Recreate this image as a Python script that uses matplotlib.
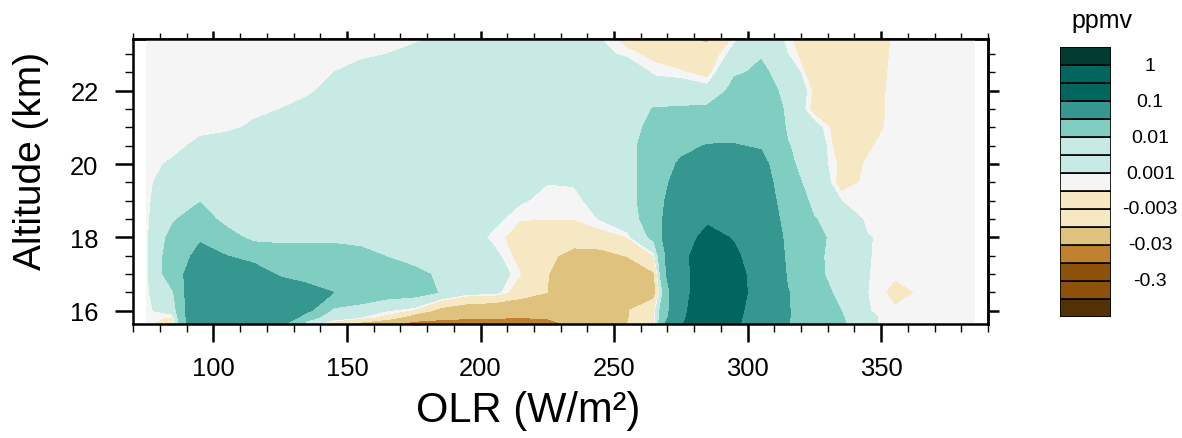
import numpy as np
import matplotlib
matplotlib.use('Agg')
import matplotlib.pyplot as plt
from matplotlib.colors import ListedColormap, BoundaryNorm
from matplotlib.ticker import MultipleLocator
from matplotlib.patches import Rectangle

plt.rcParams['font.family'] = ['Liberation Sans', 'DejaVu Sans']

# OLR bin centres (W/m2) and altitude levels (km)
olr = [75, 85, 95, 105, 115, 125, 135, 145, 155, 165, 175, 185, 195, 205, 215, 225,
       235, 245, 255, 265, 275, 285, 295, 305, 315, 325, 335, 345, 355, 365, 375, 385]
alt = [15.64, 15.82, 16.0, 16.5, 17.0, 17.5, 18.0, 18.5, 19.0,
       19.5, 20.0, 20.5, 21.0, 21.5, 22.0, 22.5, 23.0, 23.41]

# anomaly (ppmv) along each altitude level
z_1564 = [-0.0005, -0.003, 0.06, 0.065, 0.06, 0.035, 0.006, -0.0058, -0.0142, -0.025, -0.0385, -0.045,
          -0.05, -0.05, -0.05, -0.045, -0.02, -0.018, -0.01, -0.002, 0.08, 0.3, 0.11, 0.0645,
          0.0305, 0.02, 0.012, 0.0015, 0, 0, 0, 0]
z_1582 = [0, -0.0015, 0.065, 0.07, 0.065, 0.06, 0.014, 0.0053, 0.001, -0.00285, -0.0174, -0.022,
          -0.025, -0.027, -0.029, -0.027, -0.024, -0.02, -0.0105, -0.003, 0.06, 0.26, 0.12, 0.053,
          0.031, 0.02, 0.011, 0.0016, 0, 0, 0, 0]
z_1600 = [0, 0.004, 0.06, 0.065, 0.06, 0.05, 0.035, 0.006, 0.004, 0.001, -0.0019, -0.0142,
          -0.018, -0.02, -0.022, -0.025, -0.025, -0.02, -0.0105, -0.002, 0.055, 0.235, 0.12, 0.064,
          0.031, 0.02, 0.0101, 0.0012, -0.0006, 0, 0, 0]
z_1650 = [0, 0.0095, 0.058, 0.06, 0.055, 0.05, 0.04, 0.03, 0.02, 0.015, 0.014, 0.0095,
          0.003, 0.0026, -0.0041, -0.01, -0.022, -0.025, -0.022, -0.014, 0.06, 0.174, 0.13, 0.069,
          0.031, 0.015, 0.0075, 0.001, -0.002, -0.0007, 0, 0]
z_1700 = [0, 0.0164, 0.0513, 0.05, 0.045, 0.0263, 0.02, 0.02, 0.02, 0.018, 0.013, 0.0082,
          0.005, 0.004, -0.001, -0.0095, -0.02, -0.022, -0.02, -0.011, 0.08, 0.137, 0.12, 0.0745,
          0.0272, 0.013, 0.0049, 0.0011, -0.0006, 0, 0, 0]
z_1750 = [0, 0.0164, 0.037, 0.03, 0.02, 0.02, 0.02, 0.02, 0.015, 0.0094, 0.006, 0.005,
          0.004, 0.00216, -0.0025, -0.007, -0.0145, -0.014, -0.0095, -0.001, 0.07, 0.16, 0.11, 0.068,
          0.0248, 0.012, 0.0064, 0.00114, 0, 0, 0, 0]
z_1800 = [0, 0.014, 0.027, 0.015, 0.0069, 0.005, 0.005, 0.005, 0.005, 0.005, 0.005, 0.005,
          0.0036, 0, -0.0026, -0.004, -0.004, -0.003, -0.001, 0.013, 0.07, 0.119, 0.0955, 0.0756,
          0.02, 0.015, 0.0036, 0.0012, 0, 0, 0, 0]
z_1850 = [0, 0.009, 0.016, 0.006, 0.005, 0.005, 0.005, 0.005, 0.005, 0.005, 0.005, 0.005,
          0.004, 0.002, -0.0009, -0.0009, -0.0009, 0.0012, 0.006, 0.0147, 0.0625, 0.09, 0.08, 0.053,
          0.02, 0.0105, 0.005, 0, 0, 0, 0, 0]
z_1900 = [0, 0.006, 0.0095, 0.008, 0.006, 0.006, 0.005, 0.005, 0.005, 0.005, 0.005, 0.004,
          0.004, 0.004, 0.0014, 0, 0, 0.0028, 0.006, 0.017, 0.05, 0.07, 0.07, 0.0344,
          0.0267, 0.005, 0.001, 0, 0, 0, 0, 0]
z_1950 = [0, 0.004, 0.004, 0.004, 0.004, 0.004, 0.004, 0.004, 0.004, 0.004, 0.004, 0.004,
          0.004, 0.004, 0.004, 0.0011, 0.0013, 0.004, 0.006, 0.017, 0.0406, 0.06, 0.06, 0.0439,
          0.013, 0.0073, -0.0032, 0, 0, 0, 0, 0]
z_2000 = [0, 0.0016, 0.004, 0.004, 0.004, 0.004, 0.004, 0.004, 0.004, 0.004, 0.004, 0.004,
          0.004, 0.004, 0.004, 0.004, 0.004, 0.005, 0.006, 0.017, 0.033, 0.05, 0.05, 0.0372,
          0.0123, 0.004, -0.002, -0.0008, 0, 0, 0, 0]
z_2050 = [0, 0, 0.002, 0.004, 0.004, 0.004, 0.004, 0.004, 0.004, 0.004, 0.004, 0.004,
          0.004, 0.004, 0.004, 0.004, 0.004, 0.005, 0.006, 0.017, 0.025, 0.031, 0.031, 0.028,
          0.0105, 0.005, -0.004, -0.0013, 0, 0, 0, 0]
z_2100 = [0, 0, 0, 0, 0.00175, 0.003, 0.004, 0.004, 0.004, 0.004, 0.004, 0.004,
          0.004, 0.004, 0.004, 0.004, 0.004, 0.005, 0.006, 0.013, 0.02, 0.02, 0.022, 0.022,
          0.0088, 0.003, -0.004, -0.004, 0.0008, 0, 0, 0]
z_2150 = [0, 0, 0, 0, 0, 0.001, 0.003, 0.004, 0.004, 0.004, 0.004, 0.004,
          0.004, 0.004, 0.004, 0.004, 0.004, 0.004, 0.005, 0.0105, 0.011, 0.012, 0.018, 0.02,
          0.008, -0.003, -0.004, -0.004, 0.0005, 0, 0, 0]
z_2200 = [0, 0, 0, 0, 0, 0, 0, 0.0029, 0.004, 0.004, 0.004, 0.004,
          0.004, 0.004, 0.004, 0.004, 0.004, 0.004, 0.004, 0.004, 0.004, 0.003, 0.013, 0.0128,
          0.0084, -0.0021, -0.005, -0.004, 0.0004, 0, 0, 0]
z_2250 = [0, 0, 0, 0, 0, 0, 0, 0.001, 0.003, 0.004, 0.004, 0.004,
          0.004, 0.004, 0.004, 0.004, 0.004, 0.004, 0.005, 0.0003, -0.00055, -0.0028, 0.009, 0.0112,
          0.0073, -0.0061, -0.005, -0.004, 0, 0, 0, 0]
z_2300 = [0, 0, 0, 0, 0, 0, 0, 0, 0, 0.001, 0.003, 0.004,
          0.004, 0.004, 0.004, 0.004, 0.003, 0.0022, 0, -0.0021, -0.004, -0.0045, 0.0029, 0.0095,
          0.001, -0.0046, -0.005, -0.004, -0.0003, 0, 0, 0]
z_2341 = [0, 0, 0, 0, 0, 0, 0, 0, 0, 0, 0, 0.002,
          0.003, 0.004, 0.004, 0.004, 0.003, 0.001, -0.0026, -0.004, -0.009, -0.012, 0.0, 0.0067,
          -0.0002, -0.006, -0.005, -0.004, -0.0005, 0, 0, 0]

# contour levels and fill colours (lowest bin first)
levels = [-1, -0.3, -0.1, -0.03, -0.01, -0.003, -0.001, 0.001, 0.003, 0.01, 0.03, 0.1, 0.3, 1]
fill_colors = ['#543005', '#8c510a', '#8c510a', '#bf812d', '#dfc27d', '#f6e8c3', '#f6e8c3',
               '#f5f5f5', '#c7eae5', '#c7eae5', '#80cdc1', '#35978f', '#01665e', '#01665e', '#003c30']
cbar_labels = {14: '1', 12: '0.1', 10: '0.01', 8: '0.001', 6: '-0.003', 4: '-0.03', 2: '-0.3'}

z = np.array([z_1564, z_1582, z_1600, z_1650, z_1700, z_1750, z_1800, z_1850, z_1900,
              z_1950, z_2000, z_2050, z_2100, z_2150, z_2200, z_2250, z_2300, z_2341])

cmap = ListedColormap(fill_colors[1:-1])
cmap.set_under(fill_colors[0])
cmap.set_over(fill_colors[-1])
norm = BoundaryNorm(levels, cmap.N)

W, H = 1182, 439
fig = plt.figure(figsize=(W / 100, H / 100), dpi=100)
ax = fig.add_axes([133.3 / W, 1 - 325 / H, (988 - 133.3) / W, (325 - 40) / H])

ax.contourf(olr, alt, z, levels=levels, cmap=cmap, norm=norm, extend='both', antialiased=False)

ax.set_xlim(70, 390)
ax.set_ylim(15.64, 23.41)
ax.set_xticks([100, 150, 200, 250, 300, 350])
ax.set_yticks([16, 18, 20, 22])
ax.xaxis.set_minor_locator(MultipleLocator(10))
ax.yaxis.set_minor_locator(MultipleLocator(0.5))
ax.tick_params(which='major', direction='out', length=13, width=1.8, labelsize=18.4)
ax.tick_params(which='minor', direction='out', length=6, width=1.0)
ax.tick_params(axis='x', which='major', pad=10)
ax.tick_params(axis='y', which='major', pad=12)
for sp in ax.spines.values():
    sp.set_linewidth(1.8)

# short ticks on top and right
secx = ax.secondary_xaxis('top')
secx.set_xticks([100, 150, 200, 250, 300, 350])
secx.set_xticklabels([])
secx.xaxis.set_minor_locator(MultipleLocator(10))
secx.tick_params(which='major', direction='out', length=6, width=1.8)
secx.tick_params(which='minor', direction='out', length=4, width=1.0)
secx.spines['top'].set_linewidth(1.8)

secy = ax.secondary_yaxis('right')
secy.set_yticks([16, 18, 20, 22])
secy.set_yticklabels([])
secy.yaxis.set_minor_locator(MultipleLocator(0.5))
secy.tick_params(which='major', direction='out', length=8, width=1.8)
secy.tick_params(which='minor', direction='out', length=5, width=1.0)
secy.spines['right'].set_linewidth(1.8)

ax.set_xlabel('OLR (W/m²)', fontsize=30, va='center')
ax.xaxis.set_label_coords((528 - 133.3) / (988 - 133.3), (325 - 411) / 285)
ax.set_ylabel('Altitude (km)', fontsize=28, va='center', ha='center')
ax.yaxis.set_label_coords((31 - 133.3) / (988 - 133.3), (325 - 161) / 285)

# label bar
cax = fig.add_axes([1060 / W, 1 - 317.7 / H, 50.7 / W, (317.7 - 48.3) / H])
for i, c in enumerate(fill_colors):
    cax.add_patch(Rectangle((0, i), 1, 1, facecolor=c, edgecolor='black', linewidth=1.2))
cax.set_xlim(0, 1)
cax.set_ylim(0, len(fill_colors))
cax.axis('off')
for pos, lab in cbar_labels.items():
    cax.text(1.78, pos, lab, ha='center', va='center', fontsize=14)
fig.text(1102 / W, 1 - 21 / H, 'ppmv', ha='center', va='center', fontsize=18)

fig.savefig('out.png', dpi=100)
